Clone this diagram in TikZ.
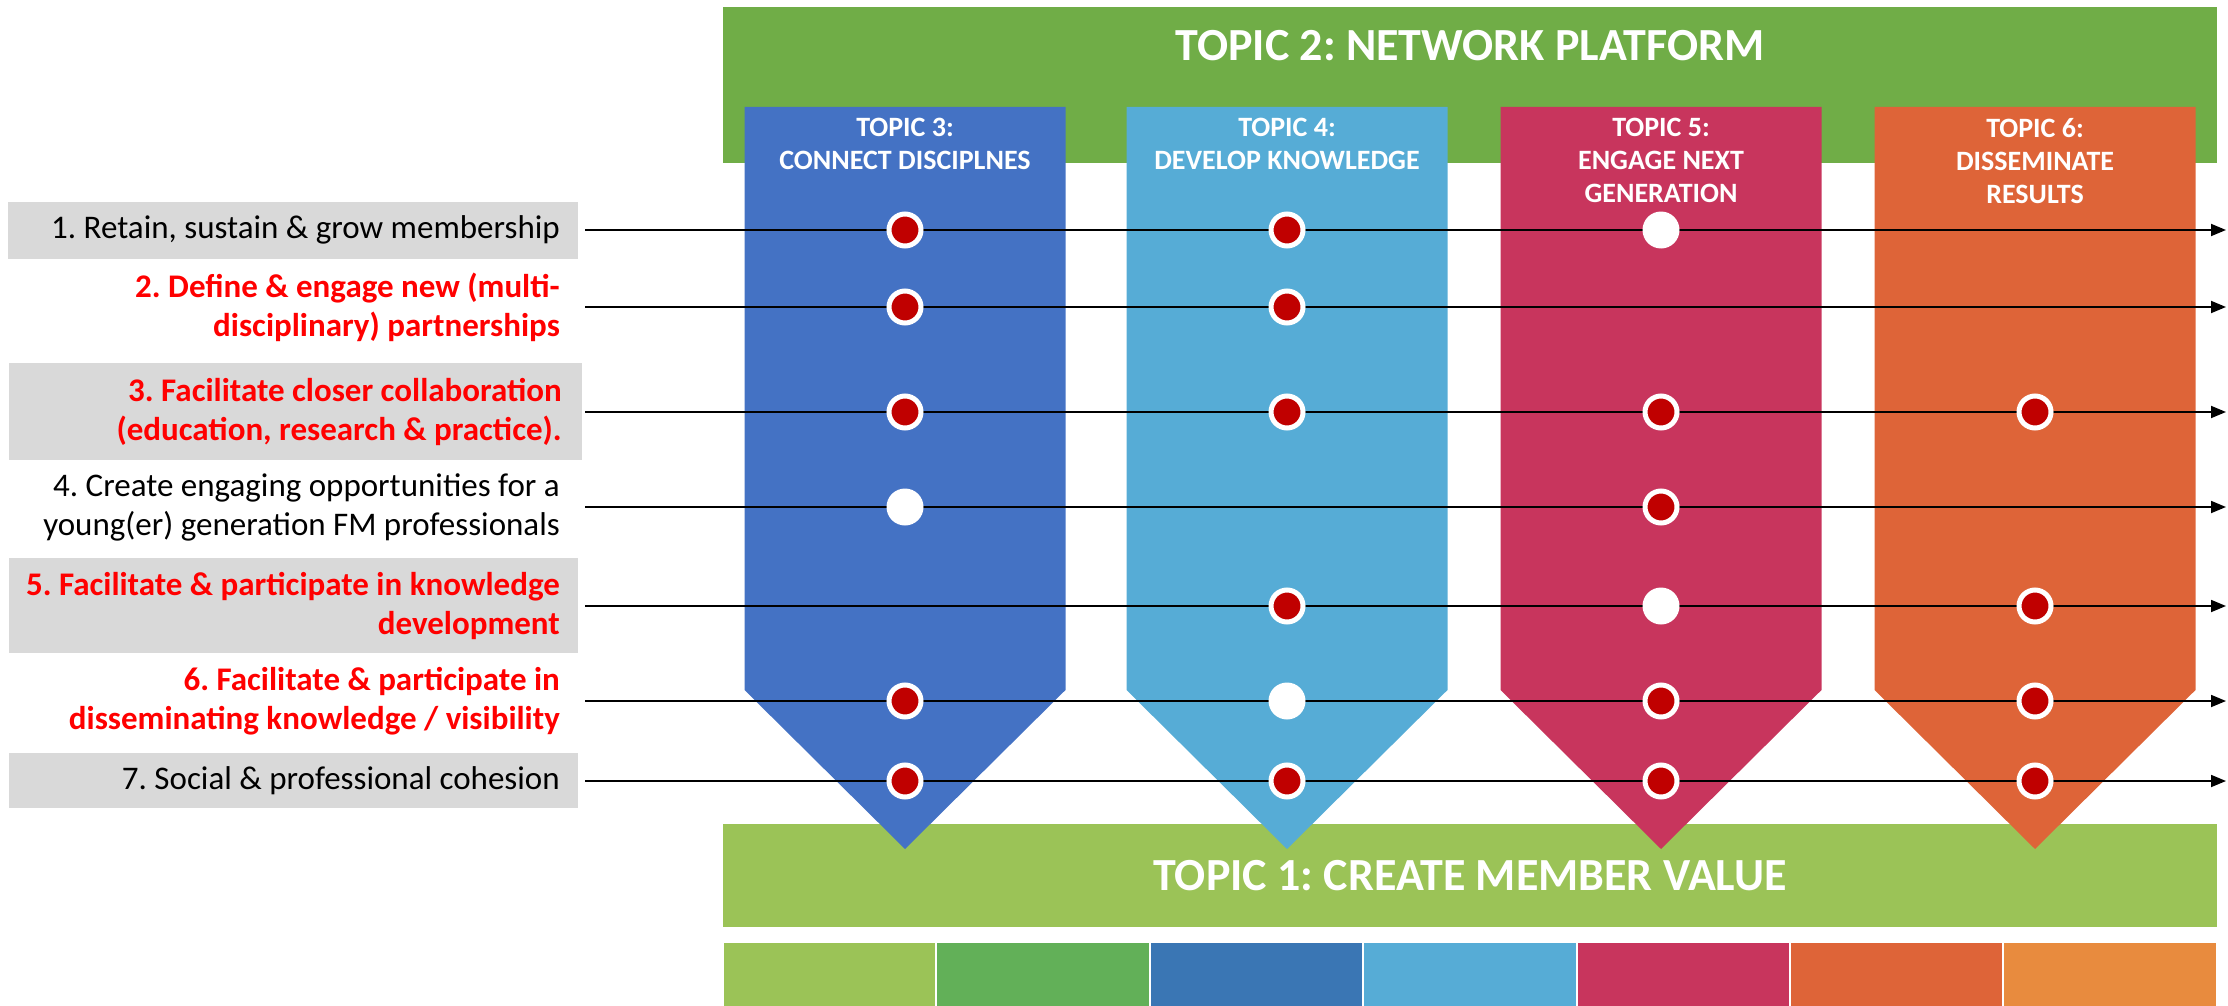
\documentclass[tikz,border=0pt]{standalone}
\usepackage{fontspec}
\setmainfont{Carlito}
\frenchspacing
\usetikzlibrary{arrows.meta}
\definecolor{platformgreen}{HTML}{70AD47}
\definecolor{valuegreen}{HTML}{9BC357}
\definecolor{boxgray}{HTML}{D9D9D9}
\definecolor{keyred}{HTML}{FF0000}
\definecolor{dotred}{HTML}{C00000}
\definecolor{tthree}{HTML}{4472C4}
\definecolor{tfour}{HTML}{56ACD6}
\definecolor{tfive}{HTML}{C8355D}
\definecolor{tsix}{HTML}{DE6438}
\definecolor{stripgreen}{HTML}{62B058}
\definecolor{stripblue}{HTML}{3A76B4}
\definecolor{striporange}{HTML}{E88B3E}
\tikzstyle{reddot} = [circle, fill=dotred, draw=white, line width=5pt, minimum size=32pt, inner sep=0pt]
\tikzstyle{whitedot} = [circle, fill=white, minimum size=37pt, inner sep=0pt]
\tikzset{rowtext/.style={anchor=east, align=right, inner sep=0pt, font=\fontsize{33}{39}\selectfont},
    keytext/.style={rowtext, text=keyred, font=\fontsize{33}{39}\selectfont\bfseries},
    topichead/.style={anchor=north, align=center, inner sep=0pt, text=white, font=\fontsize{28}{33}\selectfont\bfseries},
    banner/.style={text=white, inner sep=0pt, font=\fontsize{46}{55}\selectfont\bfseries},
    rowline/.style={line width=1.8pt, -{Triangle[length=15pt,width=12pt]}}}

\begin{document}
\begin{tikzpicture}[x=1pt,y=-1pt]
    % Definition of canvas
    \useasboundingbox (0,0) rectangle (2228,1006);
    \def\halfcol{160.5}
    %
    % Gray boxes behind the odd rows
    \fill[boxgray] (8,202) rectangle (578,259);
    \fill[boxgray] (9,363) rectangle (582,460);
    \fill[boxgray] (9,558) rectangle (578,653);
    \fill[boxgray] (9,753) rectangle (578,808);
    %
    % Banners
    \fill[platformgreen] (723,7) rectangle (2217,163);
    \node[banner] (platform) at (1470,46) {TOPIC 2: NETWORK PLATFORM};
    \fill[valuegreen] (723,824) rectangle (2217,927);
    %
    % Topic columns
    \foreach \cx/\col [count=\i from 3] in {905/tthree,1287/tfour,1661/tfive,2035/tsix}{
        \coordinate (t\i) at (\cx,107);
        \fill[\col] (\cx-\halfcol,107) -- (\cx+\halfcol,107) -- (\cx+\halfcol,690)
            -- (\cx,849) -- (\cx-\halfcol,690) -- cycle;
    }
    \node[topichead] (head3) at (905,118) {TOPIC 3:\\CONNECT DISCIPLNES};
    \node[topichead] (head4) at (1287,118) {TOPIC 4:\\DEVELOP KNOWLEDGE};
    \node[topichead] (head5) at (1661,118) {TOPIC 5:\\ENGAGE NEXT\\GENERATION};
    \node[topichead] (head6) at (2035,118) {TOPIC 6:\\DISSEMINATE\\RESULTS};
    \node[banner] (value) at (1470,876) {TOPIC 1: CREATE MEMBER VALUE};
    %
    % Colour strip
    \foreach \col [count=\i from 0] in {valuegreen,stripgreen,stripblue,tfour,tfive,tsix,striporange}
        \fill[\col] (724+\i*213.4,943) rectangle ++(211.4,63);
    %
    % Rows
    \foreach \y [count=\r] in {230,307,412,507,606,701,781}{
        \coordinate (s\r) at (585,\y);
        \coordinate (e\r) at (2226,\y);
    }
    \node[rowtext] (goal1) at (560,230) {1. Retain, sustain \& grow membership};
    \node[keytext] (goal2) at (560,307) {2. Define \& engage new (multi-\\disciplinary) partnerships};
    \node[keytext] (goal3) at (562,412) {3. Facilitate closer collaboration\\(education, research \& practice).};
    \node[rowtext] (goal4) at (560,507) {4. Create engaging opportunities for a\\young(er) generation FM professionals};
    \node[keytext] (goal5) at (560,606) {5. Facilitate \& participate in knowledge\\development};
    \node[keytext] (goal6) at (560,701) {6. Facilitate \& participate in\\disseminating knowledge / visibility};
    \node[rowtext] (goal7) at (560,781) {7. Social \& professional cohesion};
    \foreach \r in {1,...,7}
        \draw[rowline] (s\r) -- (e\r);
    %
    % Dots
    \foreach \r/\c/\kind in {1/3/reddot,1/4/reddot,1/5/whitedot,
                             2/3/reddot,2/4/reddot,
                             3/3/reddot,3/4/reddot,3/5/reddot,3/6/reddot,
                             4/3/whitedot,4/5/reddot,
                             5/4/reddot,5/5/whitedot,5/6/reddot,
                             6/3/reddot,6/4/whitedot,6/5/reddot,6/6/reddot,
                             7/3/reddot,7/4/reddot,7/5/reddot,7/6/reddot}
        \node[\kind] (d\r\c) at (t\c |- s\r) {};
\end{tikzpicture}
\end{document}
